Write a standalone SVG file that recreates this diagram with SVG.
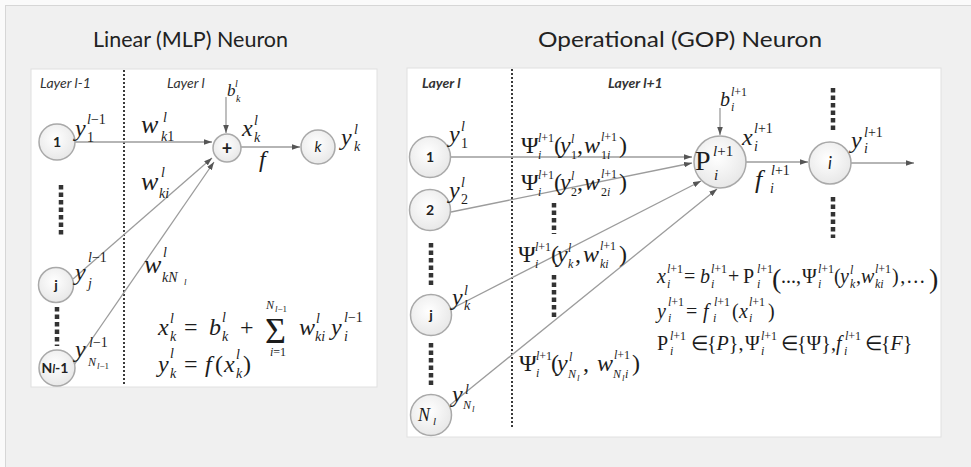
<svg xmlns="http://www.w3.org/2000/svg" width="971" height="467" viewBox="0 0 971 467">
<defs>
<radialGradient id="cg" cx="45%" cy="40%" r="65%">
<stop offset="0" stop-color="#ffffff"/><stop offset="1" stop-color="#e6e6e6"/>
</radialGradient>
<marker id="ah" viewBox="0 0 10 7" refX="10" refY="3.5" markerWidth="8" markerHeight="5.6" markerUnits="userSpaceOnUse" orient="auto">
<path d="M0,0 L10,3.5 L0,7 z" fill="#555"/>
</marker>
<style>
.nd{fill:url(#cg);stroke:#a9a9a9;stroke-width:1.5}
.ln{stroke:#9c9c9c;stroke-width:1.3;fill:none}
.ar{marker-end:url(#ah)}
.vd{stroke:#3a3a3a;stroke-width:2;stroke-dasharray:2 2;fill:none}
.el{stroke:#333;stroke-width:4.5;stroke-dasharray:4.5 3;fill:none}
.t{font-family:"Liberation Serif","Times New Roman",serif;fill:#1c1c1c}
.i{font-style:italic}
.L{font-size:24px}
.M{font-size:20px}
.S{font-size:14px}
.R{font-size:12px}
.s{font-size:12px}
.xs{font-size:9px}
.ttl{font-family:Lato,"Open Sans",sans-serif;font-size:22px;fill:#222}
.lay{font-family:Lato,"Open Sans",sans-serif;font-size:14px;font-style:italic;fill:#333}
.lb{font-weight:bold}
.nl{font-family:Lato,"Open Sans",sans-serif;font-size:14px;font-weight:bold;fill:#222;text-anchor:middle}
</style>
</defs>
<rect x="0" y="0" width="971" height="467" fill="#fafafa"/>
<rect x="5.5" y="5.5" width="970" height="470" fill="#f0f0f0" stroke="#d6d6d6"/>
<text class="ttl" x="93" y="47" textLength="195" lengthAdjust="spacingAndGlyphs">Linear (MLP) Neuron</text>
<text class="ttl" x="538" y="47" textLength="284" lengthAdjust="spacingAndGlyphs">Operational (GOP) Neuron</text>

<g id="left-panel">
<rect x="31" y="69" width="346" height="318" fill="#fff" stroke="#e0e0e0"/>
<text class="lay" x="40" y="88">Layer l-1</text>
<text class="lay" x="167" y="88">Layer l</text>
<line class="vd" x1="124" y1="70" x2="124" y2="384"/>
<line class="el" x1="61" y1="185" x2="61" y2="236"/>
<line class="el" x1="57" y1="307" x2="57" y2="346"/>
</g>

<g id="right-panel">
<rect x="407" y="68" width="534" height="369" fill="#fff" stroke="#e0e0e0"/>
<text class="lay lb" x="422" y="88">Layer l</text>
<text class="lay lb" x="608" y="88">Layer l+1</text>
<line class="vd" x1="512" y1="69" x2="512" y2="427"/>
<line class="el" x1="431" y1="243" x2="431" y2="287"/>
<line class="el" x1="431" y1="343" x2="431" y2="388"/>
<line class="el" x1="554" y1="203" x2="554" y2="234"/>
<line class="el" x1="554" y1="275" x2="554" y2="318"/>
<line class="el" x1="833" y1="88" x2="833" y2="132"/>
<line class="el" x1="833" y1="197" x2="833" y2="238"/>
</g>

<g id="connectors">
<line class="ln ar" x1="75" y1="142" x2="212" y2="142"/>
<line class="ln ar" x1="73" y1="279" x2="212" y2="158"/>
<line class="ln ar" x1="74" y1="365" x2="214" y2="162"/>
<line class="ln ar" x1="226" y1="97" x2="226" y2="133"/>
<line class="ln ar" x1="241" y1="147" x2="300" y2="147"/>
<line class="ln ar" x1="451" y1="157" x2="692" y2="157"/>
<line class="ln ar" x1="451" y1="212" x2="692" y2="163"/>
<line class="ln ar" x1="451" y1="309" x2="701" y2="181"/>
<line class="ln ar" x1="450" y1="405" x2="717" y2="189"/>
<line class="ln ar" x1="720" y1="108" x2="720" y2="135"/>
<line class="ln ar" x1="746" y1="162" x2="808" y2="162"/>
<line class="ln ar" x1="851" y1="163" x2="914" y2="163"/>
</g>

<g id="node-1-left"><circle class="nd" cx="57" cy="142" r="18"/><text class="nl" x="57" y="147">1</text></g>
<g id="node-j-left"><circle class="nd" cx="56" cy="285" r="17.5"/><text class="nl" x="56" y="290">j</text></g>
<g id="node-N-left"><circle class="nd" cx="57" cy="368" r="18"/><text class="nl" x="55" y="373" font-size="13">N<tspan font-style="italic" font-size="11">l</tspan>-1</text></g>
<g id="node-sum"><circle class="nd" cx="227" cy="148" r="14"/><text x="227" y="154.5" text-anchor="middle" font-family="Lato,sans-serif" font-weight="bold" font-size="18" fill="#222">+</text></g>
<g id="node-k"><circle class="nd" cx="318" cy="147" r="17"/><text x="318" y="152" text-anchor="middle" font-family="Lato,sans-serif" font-style="italic" font-size="15" fill="#222">k</text></g>

<g id="node-1-right"><circle class="nd" cx="430" cy="157" r="20.5"/><text class="nl" x="430" y="162" font-size="15">1</text></g>
<g id="node-2-right"><circle class="nd" cx="430" cy="210" r="20.5"/><text class="nl" x="430" y="215" font-size="15">2</text></g>
<g id="node-j-right"><circle class="nd" cx="431" cy="315" r="20.5"/><text class="nl" x="431" y="320" font-size="15">j</text></g>
<g id="node-N-right"><circle class="nd" cx="431" cy="415" r="20.5"/><text class="t i" x="418" y="421" font-size="18">N</text><text class="t i" x="433" y="425" font-size="11">l</text></g>
<g id="node-P"><circle class="nd" cx="720" cy="162" r="26"/><text class="t" x="695" y="170" font-size="28">P</text><text class="t" x="713" y="156" font-size="15"><tspan class="i">l</tspan>+1</text><text class="t i" x="714" y="180" font-size="15">i</text></g>
<g id="node-i"><circle class="nd" cx="830" cy="163" r="21"/><text x="830" y="169" text-anchor="middle" font-family="Lato,sans-serif" font-style="italic" font-size="17" fill="#222">i</text></g>

<g id="labels-left">
<text class="t i L" x="75" y="136">y</text><text class="t S" x="87" y="124"><tspan class="i">l</tspan>−1</text><text class="t S" x="87" y="142">1</text>
<text class="t i" font-size="26" x="141" y="133">w</text><text class="t i S" x="163" y="122">l</text><text class="t S" x="161" y="141"><tspan class="i">k</tspan>1</text>
<text class="t i" font-size="26" x="141" y="190">w</text><text class="t i S" x="161" y="177">l</text><text class="t i S" x="159" y="198">ki</text>
<text class="t i L" x="75" y="280">y</text><text class="t S" x="88" y="262"><tspan class="i">l</tspan>−1</text><text class="t i S" x="88" y="288">j</text>
<text class="t i" font-size="26" x="144" y="273">w</text><text class="t i S" x="163" y="257">l</text><text class="t i S" x="162" y="282">kN</text><text class="t i xs" x="184" y="285">l</text>
<text class="t i L" x="75" y="357">y</text><text class="t S" x="89" y="347"><tspan class="i">l</tspan>−1</text><text class="t i s" x="88" y="366">N</text><text class="t xs" x="97" y="369"><tspan class="i">l</tspan>−1</text>
<text class="t i" font-size="17" x="227" y="96">b</text><text class="t i" font-size="10" x="235" y="87">l</text><text class="t i" font-size="10" x="236" y="102">k</text>
<text class="t i L" x="242" y="136">x</text><text class="t i S" x="254" y="125">l</text><text class="t i S" x="254" y="142">k</text>
<text class="t i L" x="259" y="167">f</text>
<text class="t i L" x="341" y="145">y</text><text class="t i S" x="354" y="134">l</text><text class="t i S" x="354" y="151">k</text>
</g>

<g id="formula-left">
<text class="t i L" x="158" y="335">x</text><text class="t i S" x="170" y="323">l</text><text class="t i S" x="170" y="341">k</text>
<text class="t L" x="184" y="335">=</text>
<text class="t i L" x="209" y="335">b</text><text class="t i S" x="222" y="322">l</text><text class="t i S" x="222" y="341">k</text>
<text class="t L" x="240" y="335">+</text>
<text class="t" font-size="36" x="265" y="343">Σ</text>
<text class="t i s" x="266" y="309">N</text><text class="t xs" x="275" y="312"><tspan class="i">l</tspan>−1</text>
<text class="t s" x="270" y="356"><tspan class="i">i</tspan>=1</text>
<text class="t i L" x="299" y="335">w</text><text class="t i S" x="316" y="323">l</text><text class="t i S" x="315" y="341">ki</text>
<text class="t i L" x="331" y="335">y</text><text class="t S" x="344" y="322"><tspan class="i">l</tspan>−1</text><text class="t i S" x="344" y="341">i</text>
<text class="t i L" x="158" y="372">y</text><text class="t i S" x="170" y="358">l</text><text class="t i S" x="170" y="378">k</text>
<text class="t L" x="184" y="372">=</text>
<text class="t i L" x="205" y="372">f</text><text class="t L" x="215" y="372">(</text>
<text class="t i L" x="224" y="372">x</text><text class="t i S" x="236" y="359">l</text><text class="t i S" x="236" y="378">k</text>
<text class="t L" x="243" y="372">)</text>
</g>

<g id="labels-right">
<text class="t i L" x="449" y="142">y</text><text class="t i S" x="461" y="131">l</text><text class="t S" x="461" y="148">1</text>
<text class="t i L" x="449" y="198">y</text><text class="t i S" x="461" y="187">l</text><text class="t S" x="461" y="204">2</text>
<text class="t i L" x="452" y="305">y</text><text class="t i S" x="464" y="295">l</text><text class="t i S" x="464" y="310">k</text>
<text class="t i L" x="452" y="402">y</text><text class="t i S" x="465" y="394">l</text><text class="t i s" x="463" y="409">N</text><text class="t i xs" x="472" y="412">l</text>

<text class="t L" x="521" y="153">Ψ</text><text class="t R" x="538" y="142"><tspan class="i">l</tspan>+1</text><text class="t i R" x="538" y="159">i</text>
<text class="t L" x="554" y="153">(</text><text class="t i L" x="560" y="153">y</text><text class="t i R" x="571" y="143">l</text><text class="t R" x="571" y="159">1</text>
<text class="t L" x="577" y="153">,</text><text class="t i L" x="584" y="153">w</text><text class="t R" x="601" y="141"><tspan class="i">l</tspan>+1</text><text class="t R" x="601" y="159">1<tspan class="i">i</tspan></text><text class="t L" x="619" y="153">)</text>

<text class="t L" x="521" y="190">Ψ</text><text class="t R" x="538" y="179"><tspan class="i">l</tspan>+1</text><text class="t i R" x="538" y="196">i</text>
<text class="t L" x="554" y="190">(</text><text class="t i L" x="560" y="190">y</text><text class="t i R" x="571" y="180">l</text><text class="t R" x="571" y="196">2</text>
<text class="t L" x="577" y="190">,</text><text class="t i L" x="584" y="190">w</text><text class="t R" x="601" y="178"><tspan class="i">l</tspan>+1</text><text class="t R" x="601" y="196">2<tspan class="i">i</tspan></text><text class="t L" x="619" y="190">)</text>

<text class="t L" x="518" y="262">Ψ</text><text class="t R" x="535" y="251"><tspan class="i">l</tspan>+1</text><text class="t i R" x="535" y="268">i</text>
<text class="t L" x="551" y="262">(</text><text class="t i L" x="557" y="262">y</text><text class="t i R" x="568" y="252">l</text><text class="t i R" x="568" y="268">k</text>
<text class="t L" x="575" y="262">,</text><text class="t i L" x="583" y="262">w</text><text class="t R" x="600" y="250"><tspan class="i">l</tspan>+1</text><text class="t i R" x="600" y="268">ki</text><text class="t L" x="619" y="262">)</text>

<text class="t L" x="519" y="371">Ψ</text><text class="t R" x="536" y="360"><tspan class="i">l</tspan>+1</text><text class="t i R" x="536" y="377">i</text>
<text class="t L" x="551" y="371">(</text><text class="t i L" x="557" y="371">y</text><text class="t i R" x="569" y="361">l</text><text class="t i s" x="568" y="378">N</text><text class="t i xs" x="577" y="381">l</text>
<text class="t L" x="583" y="371">,</text><text class="t i L" x="597" y="371">w</text><text class="t R" x="614" y="359"><tspan class="i">l</tspan>+1</text><text class="t i s" x="613" y="378">N</text><text class="t i xs" x="622" y="381">l</text><text class="t i s" x="625" y="378">i</text><text class="t L" x="632" y="371">)</text>

<text class="t i" font-size="20" x="720" y="106">b</text><text class="t s" x="731" y="96"><tspan class="i">l</tspan>+1</text><text class="t i s" x="731" y="111">i</text>
<text class="t i L" x="742" y="145">x</text><text class="t S" x="754" y="133"><tspan class="i">l</tspan>+1</text><text class="t i S" x="754" y="151">i</text>
<text class="t i" font-size="26" x="755" y="188">f</text><text class="t S" x="771" y="175"><tspan class="i">l</tspan>+1</text><text class="t i S" x="770" y="193">i</text>
<text class="t i L" x="851" y="148">y</text><text class="t S" x="864" y="137"><tspan class="i">l</tspan>+1</text><text class="t i S" x="864" y="153">i</text>
</g>

<g id="formula-right">
<text class="t i M" x="657" y="283">x</text><text class="t s" x="667" y="273"><tspan class="i">l</tspan>+1</text><text class="t i s" x="667" y="288">i</text>
<text class="t M" x="684" y="283">=</text>
<text class="t i M" x="700" y="283">b</text><text class="t s" x="711" y="273"><tspan class="i">l</tspan>+1</text><text class="t i s" x="711" y="288">i</text>
<text class="t M" x="728" y="283">+</text>
<text class="t M" x="743" y="283">P</text><text class="t s" x="757" y="273"><tspan class="i">l</tspan>+1</text><text class="t i s" x="757" y="288">i</text>
<text class="t" font-size="28" x="772" y="288">(</text>
<text class="t M" x="781" y="283">...,</text>
<text class="t M" x="802" y="283">Ψ</text><text class="t s" x="818" y="273"><tspan class="i">l</tspan>+1</text><text class="t i s" x="818" y="288">i</text>
<text class="t M" x="834" y="283">(</text>
<text class="t i M" x="840" y="283">y</text><text class="t i s" x="850" y="274">l</text><text class="t i s" x="850" y="288">k</text>
<text class="t M" x="856" y="283">,</text>
<text class="t i M" x="861" y="283">w</text><text class="t s" x="875" y="273"><tspan class="i">l</tspan>+1</text><text class="t i s" x="875" y="288">ki</text>
<text class="t M" x="892" y="283" letter-spacing="1.5">),...</text>
<text class="t" font-size="28" x="929" y="288">)</text>

<text class="t i M" x="657" y="318">y</text><text class="t s" x="668" y="306"><tspan class="i">l</tspan>+1</text><text class="t i s" x="668" y="322">i</text>
<text class="t M" x="686" y="318">=</text>
<text class="t i M" x="703" y="318">f</text><text class="t s" x="714" y="306"><tspan class="i">l</tspan>+1</text><text class="t i s" x="713" y="322">i</text>
<text class="t M" x="732" y="318">(</text>
<text class="t i M" x="739" y="318">x</text><text class="t s" x="749" y="306"><tspan class="i">l</tspan>+1</text><text class="t i s" x="749" y="322">i</text>
<text class="t M" x="768" y="318">)</text>

<text class="t M" x="657" y="350">P</text><text class="t s" x="670" y="340"><tspan class="i">l</tspan>+1</text><text class="t i s" x="670" y="355">i</text>
<text class="t M" x="691" y="350">∈</text>
<text class="t M" x="707" y="350">{<tspan class="i">P</tspan>},</text>
<text class="t M" x="745" y="350">Ψ</text><text class="t s" x="761" y="340"><tspan class="i">l</tspan>+1</text><text class="t i s" x="761" y="355">i</text>
<text class="t M" x="781" y="350">∈</text>
<text class="t M" x="797" y="350">{Ψ},</text>
<text class="t i M" x="836" y="350">f</text><text class="t s" x="845" y="340"><tspan class="i">l</tspan>+1</text><text class="t i s" x="844" y="355">i</text>
<text class="t M" x="865" y="350">∈</text>
<text class="t M" x="881" y="350">{<tspan class="i">F</tspan>}</text>
</g>
</svg>
